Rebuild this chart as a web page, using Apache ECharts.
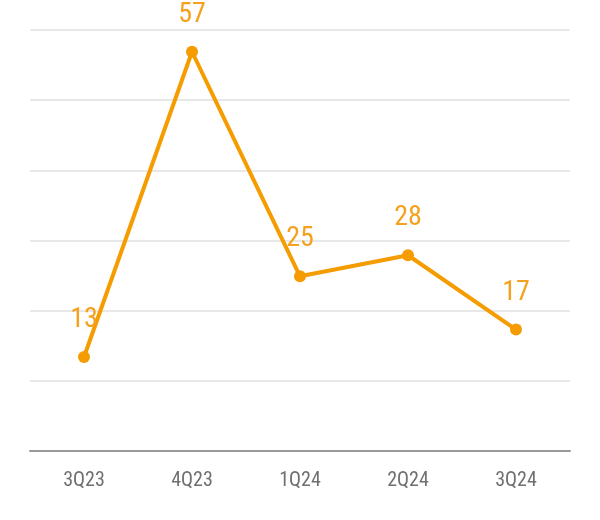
<!DOCTYPE html>
<html><head><meta charset="utf-8">
<script src="https://cdn.jsdelivr.net/npm/echarts@6/dist/echarts.min.js"></script>
<style>html,body{margin:0;padding:0;background:#fff}#c{width:600px;height:520px}</style>
</head><body><div id="c"></div>
<script>
const categories = ['3Q23','4Q23','1Q24','2Q24','3Q24'];
const values = [13.4, 56.9, 24.9, 27.9, 17.3];
const font = "'Roboto Condensed','Open Sans',sans-serif";
const chart = echarts.init(document.getElementById('c'));
chart.setOption({
  animation: false,
  grid: {left: 30, right: 30, top: 30, bottom: 69, containLabel: false},
  xAxis: {
    type: 'category', data: categories, boundaryGap: true,
    axisLine: {lineStyle: {color: '#999', width: 2}},
    axisTick: {show: false},
    axisLabel: {color: '#707070', fontSize: 20, fontWeight: 'normal condensed', fontFamily: font, margin: 20}
  },
  yAxis: {
    type: 'value', min: 0, max: 60, interval: 10,
    axisLabel: {show: false}, axisLine: {show: false}, axisTick: {show: false},
    splitLine: {lineStyle: {color: '#e8e8e8', width: 2}}
  },
  series: [{
    type: 'line', data: values,
    symbol: 'circle', symbolSize: 12,
    lineStyle: {color: '#f59c00', width: 4},
    itemStyle: {color: '#f59c00'},
    label: {show: true, position: 'top', distance: 17, color: '#f5a01e', fontSize: 28,
      fontWeight: 'normal condensed', fontFamily: font,
      formatter: p => String(Math.round(p.value))}
  }]
});
</script></body></html>
